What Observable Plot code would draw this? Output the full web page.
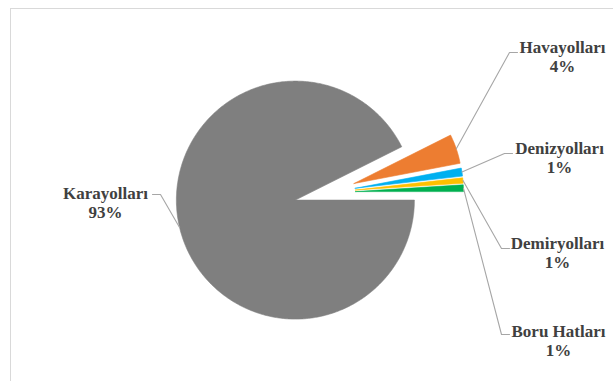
<!DOCTYPE html>
<html><head><meta charset="utf-8">
<script src="https://cdn.jsdelivr.net/npm/d3@7"></script>
<script src="https://cdn.jsdelivr.net/npm/@observablehq/plot@0.6"></script>
<style>
html,body{margin:0;padding:0;background:#fff;}
#wrap{position:relative;width:613px;height:381px;overflow:hidden;}
#chart{position:absolute;left:0;top:0;}
#border{position:absolute;left:10px;top:8px;width:700px;height:500px;border-left:1.5px solid #d9d9d9;border-top:1.5px solid #d9d9d9;z-index:2;pointer-events:none;}
</style></head><body>
<div id="wrap"><div id="chart"></div><div id="border"></div></div>
<script>
// ---- data ----
const categories = ["Karayolları", "Havayolları", "Denizyolları", "Demiryolları", "Boru Hatları"];
const shares = [92.6, 4.4, 1.2, 0.8, 1.0];
const colors = ["#7f7f7f", "#ed7d31", "#00b0f0", "#ffc000", "#00b050"];

// ---- layout ----
const W = 613, H = 381;
const CX = 327, CY = 192, K = 119;           // pie centre (px) and px per unit
const radius = i => i === 0 ? 1 : 108 / 119;
const explode = i => i === 0 ? 33 / 119 : 28 / 119;
const labelLayout = [
  {cx: 105, cy: 202, elbowX: 160, endX: 152, lineY: 194},
  {cx: 562, cy: 56,  elbowX: 509, endX: 517, lineY: 52},
  {cx: 559, cy: 157, elbowX: 504, endX: 512, lineY: 153},
  {cx: 557, cy: 252, elbowX: 501, endX: 509, lineY: 248},
  {cx: 558, cy: 340, elbowX: 501, endX: 509, lineY: 334}
];
const toX = px => (px - CX) / K;
const toY = py => (CY - py) / K;

const rows = categories.map((c, i) => ({cat: c, share: shares[i], i}));
const pie = d3.pie().sort(null).value(d => d.share)
  .startAngle(Math.PI / 2).endAngle(Math.PI / 2 + 2 * Math.PI);
const arcs = pie(rows);

const slices = arcs.map(a => {
  const i = a.data.i, m = (a.startAngle + a.endAngle) / 2;
  const ox = explode(i) * Math.sin(m), oy = explode(i) * Math.cos(m);
  const r = radius(i);
  const pts = [{cat: a.data.cat, x: ox, y: oy}];
  const n = Math.max(4, Math.ceil((a.endAngle - a.startAngle) / 0.01));
  for (let k = 0; k <= n; k++) {
    const t = a.startAngle + (a.endAngle - a.startAngle) * k / n;
    pts.push({cat: a.data.cat, x: ox + r * Math.sin(t), y: oy + r * Math.cos(t)});
  }
  pts.push({cat: a.data.cat, x: ox, y: oy});
  return pts;
});

const leaders = arcs.map(a => {
  const i = a.data.i, m = (a.startAngle + a.endAngle) / 2;
  const d = explode(i) + radius(i);
  const L = labelLayout[i];
  return [
    {x: d * Math.sin(m), y: d * Math.cos(m)},
    {x: toX(L.elbowX), y: toY(L.lineY)},
    {x: toX(L.endX), y: toY(L.lineY)}
  ];
});

const labels = rows.map(r => ({
  text: `${r.cat}\n${Math.round(r.share)}%`,
  x: toX(labelLayout[r.i].cx),
  y: toY(labelLayout[r.i].cy)
}));

const chart = Plot.plot({
  width: W, height: H, margin: 0,
  style: {background: "transparent"},
  x: {domain: [toX(0), toX(W)], axis: null},
  y: {domain: [toY(H), toY(0)], axis: null},
  color: {domain: categories, range: colors},
  marks: [
    ...slices.map(pts => Plot.line(pts, {x: "x", y: "y", fill: "cat", stroke: "cat", strokeWidth: 0.6, curve: "linear"})),
    ...leaders.map(pts => Plot.line(pts, {x: "x", y: "y", stroke: "#a6a6a6", strokeWidth: 1.1})),
    Plot.text(labels, {x: "x", y: "y", text: "text", fontFamily: "Liberation Serif", fontWeight: "bold",
      fontSize: 17, lineHeight: 19 / 17, fill: "#404040", textAnchor: "middle"})
  ]
});
document.getElementById("chart").appendChild(chart);
</script>
</body></html>
